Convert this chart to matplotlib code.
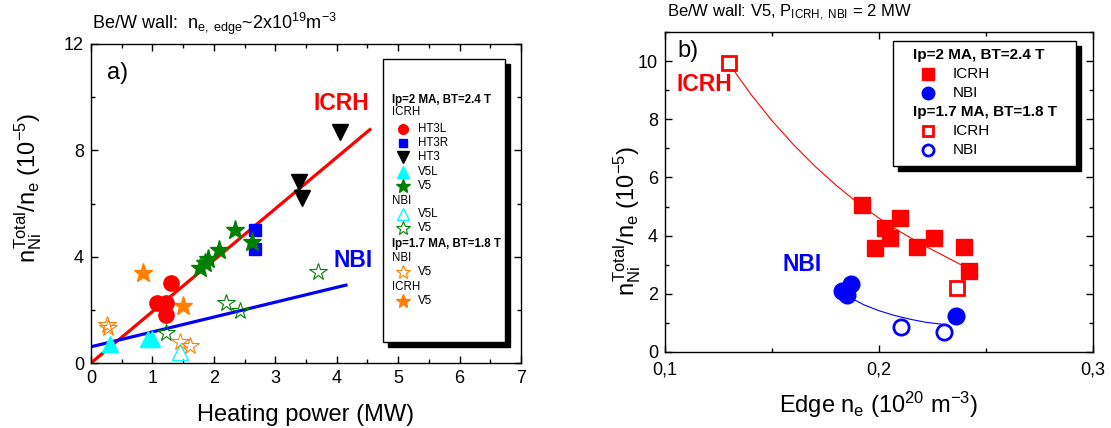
import numpy as np
import matplotlib
matplotlib.use('Agg')
import matplotlib.pyplot as plt
from matplotlib.patches import Rectangle
from matplotlib.ticker import MultipleLocator, FuncFormatter

plt.rcParams['font.family'] = ['Liberation Sans', 'DejaVu Sans']
plt.rcParams['mathtext.fontset'] = 'custom'
plt.rcParams['mathtext.rm'] = 'Liberation Sans'
plt.rcParams['mathtext.it'] = 'Liberation Sans'
plt.rcParams['mathtext.bf'] = 'Liberation Sans:bold'

# ---- panel a) data : heating power (MW) vs nNi/ne (1e-5)
ht3l_x = [1.07, 1.22, 1.22, 1.31]
ht3l_y = [2.25, 2.25, 1.80, 3.00]
ht3r_x = [2.67, 2.67]
ht3r_y = [5.00, 4.30]
ht3_x = [4.06, 3.38, 3.43]
ht3_y = [8.70, 6.80, 6.20]
v5l_icrh_x = [0.31, 0.93, 1.00]
v5l_icrh_y = [0.70, 0.90, 0.92]
v5_icrh_x = [2.35, 2.62, 2.09, 1.91, 1.86, 1.78]
v5_icrh_y = [5.00, 4.56, 4.25, 3.93, 3.75, 3.56]
v5l_nbi_x = [1.45]
v5l_nbi_y = [0.43]
v5_nbi_x = [3.70, 2.19, 2.42, 1.22]
v5_nbi_y = [3.43, 2.27, 1.97, 1.11]
lo_nbi_x = [0.26, 0.28, 1.45, 1.61]
lo_nbi_y = [1.43, 1.30, 0.80, 0.64]
lo_icrh_x = [0.85, 1.50]
lo_icrh_y = [3.40, 2.14]
icrh_fit_x = [0.0, 4.54]
icrh_fit_y = [0.0, 8.78]
nbi_fit_x = [0.0, 4.15]
nbi_fit_y = [0.61, 2.93]

# ---- panel b) data : edge ne (1e20 m-3) vs nNi/ne (1e-5)
b_icrh_x = [0.1922, 0.2028, 0.2098, 0.2051, 0.1981, 0.2176, 0.2257, 0.2397, 0.2421]
b_icrh_y = [5.04, 4.26, 4.59, 3.92, 3.57, 3.60, 3.92, 3.60, 2.77]
b_icrh_lo_x = [0.1299, 0.2366]
b_icrh_lo_y = [9.95, 2.19]
b_nbi_x = [0.1826, 0.1849, 0.1869, 0.2358]
b_nbi_y = [2.08, 1.97, 2.33, 1.25]
b_nbi_lo_x = [0.2103, 0.2304]
b_nbi_lo_y = [0.87, 0.68]
b_icrh_curve_x = [0.130, 0.140, 0.150, 0.160, 0.170, 0.180, 0.190, 0.200, 0.210, 0.220, 0.230, 0.238]
b_icrh_curve_y = [9.90, 8.87, 7.95, 7.13, 6.39, 5.73, 5.13, 4.60, 4.13, 3.70, 3.32, 3.01]
b_nbi_curve_x = [0.187, 0.193, 0.200, 0.207, 0.215, 0.222, 0.230]
b_nbi_curve_y = [1.85, 1.62, 1.42, 1.26, 1.12, 1.02, 0.95]

RED = '#ff0000'
BLUE = '#0000ff'
CYAN = '#00ffff'
GREEN = '#008000'
ORANGE = '#ff8000'

fig = plt.figure(figsize=(11.11, 4.28), dpi=100)
ax1 = fig.add_axes([91/1111, 65/428, 430/1111, 319/428])
ax2 = fig.add_axes([665/1111, 76/428, 428/1111, 320/428])


def style_axes(ax):
    ax.tick_params(which='both', direction='in', top=True, right=True,
                   labelsize=13, width=1, pad=5)
    ax.tick_params(which='major', length=5)
    ax.tick_params(which='minor', length=3)
    for s in ax.spines.values():
        s.set_linewidth(1)


def legend_box(ax, x0, y0, x1, y1, dx, dy):
    ax.add_patch(Rectangle((x0+dx, y0-dy), x1-x0, y1-y0, transform=ax.transAxes,
                           facecolor='black', edgecolor='black', zorder=5, clip_on=False))
    ax.add_patch(Rectangle((x0, y0), x1-x0, y1-y0, transform=ax.transAxes,
                           facecolor='white', edgecolor='black', lw=1, zorder=6, clip_on=False))


# ---------------- panel a)
ax1.plot(icrh_fit_x, icrh_fit_y, color=RED, lw=2.3, zorder=2)
ax1.plot(nbi_fit_x, nbi_fit_y, color=BLUE, lw=2.3, zorder=2)
ax1.plot(v5l_nbi_x, v5l_nbi_y, '^', ms=12, mfc='none', mec=CYAN, mew=1, ls='none', zorder=3)
ax1.plot(v5_nbi_x, v5_nbi_y, '*', ms=13, mfc='none', mec=GREEN, mew=0.8, ls='none', zorder=3)
ax1.plot(lo_nbi_x, lo_nbi_y, '*', ms=13, mfc='none', mec=ORANGE, mew=0.8, ls='none', zorder=3)
ax1.plot(v5l_icrh_x, v5l_icrh_y, '^', ms=12, color=CYAN, ls='none', zorder=3)
ax1.plot(lo_icrh_x, lo_icrh_y, '*', ms=14, color=ORANGE, ls='none', zorder=3)
ax1.plot(ht3l_x, ht3l_y, 'o', ms=11, color=RED, ls='none', zorder=3)
ax1.plot(ht3r_x, ht3r_y, 's', ms=9, color=BLUE, ls='none', zorder=3)
ax1.plot(ht3_x, ht3_y, 'v', ms=12, color='black', ls='none', zorder=3)
ax1.plot(v5_icrh_x, v5_icrh_y, '*', ms=14, color=GREEN, ls='none', zorder=3)

ax1.text(3.62, 9.77, 'ICRH', color=RED, fontsize=16.5, fontweight='bold', va='center')
ax1.text(3.94, 3.87, 'NBI', color=BLUE, fontsize=16.5, fontweight='bold', va='center')
ax1.text(0.26, 10.9, 'a)', fontsize=17, va='center')

ax1.set_xlim(0, 7)
ax1.set_ylim(0, 12)
ax1.xaxis.set_major_locator(MultipleLocator(1))
ax1.xaxis.set_minor_locator(MultipleLocator(0.5))
ax1.yaxis.set_major_locator(MultipleLocator(4))
ax1.yaxis.set_minor_locator(MultipleLocator(2))
style_axes(ax1)
ax1.set_xlabel('Heating power (MW)', fontsize=17, labelpad=12)
ax1.set_ylabel(r'$n_{Ni}^{Total}/n_e\ (10^{-5})$', fontsize=17)
ax1.yaxis.set_label_coords(-0.109, 0.55)
fig.text(92/1111, 1-29/428, r'Be/W wall:  $n_{e,\ edge}$~2x$10^{19}$m$^{-3}$', fontsize=13)

# legend a)
legend_box(ax1, 0.679, 0.066, 0.963, 0.953, 0.012, 0.016)
fs = 8.3
hx, mx, tx = 0.700, 0.726, 0.760
leg_a = [
    ('head', 0.824, 'Ip=2 MA, BT=2.4 T', None),
    ('sub', 0.787, 'ICRH', None),
    ('item', 0.734, 'HT3L', dict(marker='o', ms=7, color=RED)),
    ('item', 0.690, 'HT3R', dict(marker='s', ms=6, color=BLUE)),
    ('item', 0.646, 'HT3', dict(marker='v', ms=9, color='black')),
    ('item', 0.599, 'V5L', dict(marker='^', ms=9, color=CYAN)),
    ('item', 0.555, 'V5', dict(marker='*', ms=10, color=GREEN)),
    ('sub', 0.508, 'NBI', None),
    ('item', 0.467, 'V5L', dict(marker='^', ms=9, mfc='none', mec=CYAN, mew=1)),
    ('item', 0.423, 'V5', dict(marker='*', ms=10, mfc='none', mec=GREEN, mew=0.8)),
    ('head', 0.373, 'Ip=1.7 MA, BT=1.8 T', None),
    ('sub', 0.329, 'NBI', None),
    ('item', 0.285, 'V5', dict(marker='*', ms=10, mfc='none', mec=ORANGE, mew=0.8)),
    ('sub', 0.238, 'ICRH', None),
    ('item', 0.194, 'V5', dict(marker='*', ms=10, color=ORANGE)),
]
for kind, y, label, mk in leg_a:
    if kind == 'head':
        ax1.text(hx, y, label, transform=ax1.transAxes, fontsize=fs, fontweight='bold',
                 va='center', zorder=7)
    elif kind == 'sub':
        ax1.text(hx, y, label, transform=ax1.transAxes, fontsize=fs, va='center', zorder=7)
    else:
        ax1.plot([mx], [y], ls='none', transform=ax1.transAxes, zorder=7, clip_on=False, **mk)
        ax1.text(tx, y, label, transform=ax1.transAxes, fontsize=fs, va='center', zorder=7)

# ---------------- panel b)
ax2.plot(b_icrh_curve_x, b_icrh_curve_y, color=RED, lw=0.8, zorder=2)
ax2.plot(b_nbi_curve_x, b_nbi_curve_y, color=BLUE, lw=0.8, zorder=2)
ax2.plot(b_icrh_x, b_icrh_y, 's', ms=11, color=RED, ls='none', zorder=3)
ax2.plot(b_icrh_lo_x, b_icrh_lo_y, 's', ms=10, mfc='white', mec=RED, mew=2, ls='none', zorder=3)
ax2.plot(b_nbi_x, b_nbi_y, 'o', ms=12, color=BLUE, ls='none', zorder=3)
ax2.plot(b_nbi_lo_x, b_nbi_lo_y, 'o', ms=11, mfc='white', mec=BLUE, mew=2, ls='none', zorder=3)

ax2.text(0.1055, 9.2, 'ICRH', color=RED, fontsize=16.5, fontweight='bold', va='center')
ax2.text(0.155, 3.0, 'NBI', color=BLUE, fontsize=16.5, fontweight='bold', va='center')
ax2.text(0.106, 10.35, 'b)', fontsize=17, va='center')

ax2.set_xlim(0.1, 0.3)
ax2.set_ylim(0, 11)
ax2.xaxis.set_major_locator(MultipleLocator(0.1))
ax2.xaxis.set_minor_locator(MultipleLocator(0.05))
ax2.yaxis.set_major_locator(MultipleLocator(2))
ax2.yaxis.set_minor_locator(MultipleLocator(1))
ax2.xaxis.set_major_formatter(FuncFormatter(lambda v, p: ('%.1f' % v).replace('.', ',')))
style_axes(ax2)
ax2.tick_params(axis='x', which='major', pad=7)
ax2.set_xlabel(r'Edge $n_e$ ($10^{20}$ m$^{-3}$)', fontsize=17, labelpad=8)
ax2.set_ylabel(r'$n_{Ni}^{Total}/n_e\ (10^{-5})$', fontsize=17)
ax2.yaxis.set_label_coords(-0.052, 0.41)
fig.text(667/1111, 1-17/428, r'Be/W wall: V5, $P_{ICRH,\ NBI}$ = 2 MW', fontsize=12)

# legend b)
legend_box(ax2, 0.533, 0.581, 0.960, 0.972, 0.012, 0.016)
fs2 = 11
hx2, mx2, tx2 = 0.579, 0.614, 0.673
leg_b = [
    ('head', 0.928, 'Ip=2 MA, BT=2.4 T', None),
    ('item', 0.869, 'ICRH', dict(marker='s', ms=8, color=RED)),
    ('item', 0.809, 'NBI', dict(marker='o', ms=9, color=BLUE)),
    ('head', 0.750, 'Ip=1.7 MA, BT=1.8 T', None),
    ('item', 0.691, 'ICRH', dict(marker='s', ms=7, mfc='white', mec=RED, mew=2)),
    ('item', 0.631, 'NBI', dict(marker='o', ms=8, mfc='white', mec=BLUE, mew=2)),
]
for kind, y, label, mk in leg_b:
    if kind == 'head':
        ax2.text(hx2, y, label, transform=ax2.transAxes, fontsize=fs2, fontweight='bold',
                 va='center', zorder=7)
    else:
        ax2.plot([mx2], [y], ls='none', transform=ax2.transAxes, zorder=7, clip_on=False, **mk)
        ax2.text(tx2, y, label, transform=ax2.transAxes, fontsize=fs2, va='center', zorder=7)

plt.savefig('out.png', dpi=100)
